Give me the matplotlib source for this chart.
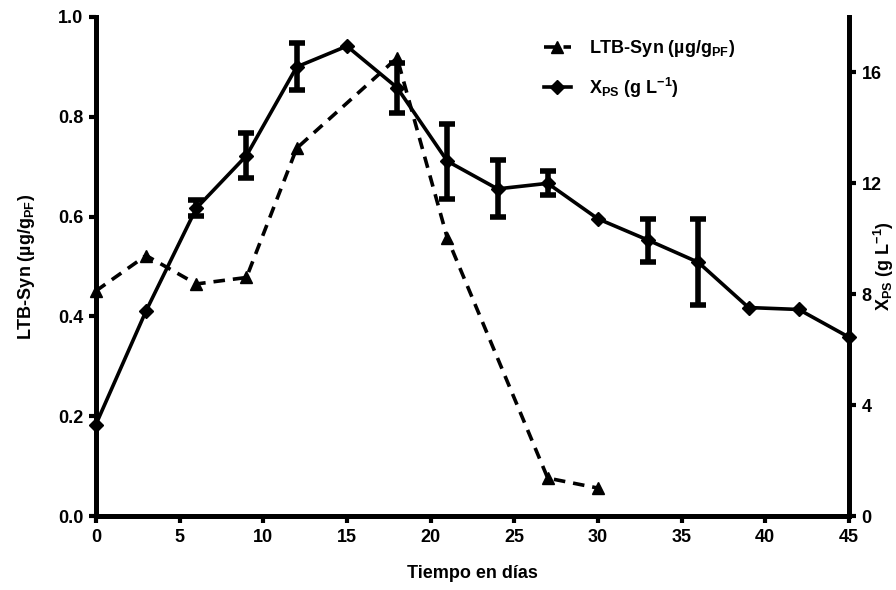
import numpy as np
import matplotlib.pyplot as plt

plt.rcParams['font.family'] = ['Liberation Sans', 'DejaVu Sans']
plt.rcParams['font.weight'] = 'bold'
plt.rcParams['mathtext.fontset'] = 'custom'
plt.rcParams['mathtext.rm'] = 'Liberation Sans:bold'
plt.rcParams['mathtext.bf'] = 'Liberation Sans:bold'
plt.rcParams['mathtext.default'] = 'bf'

# LTB-Syn (eje izquierdo)
dias_ltb = [0, 3, 6, 9, 12, 18, 21, 27, 30]
ltb = [0.451, 0.522, 0.465, 0.478, 0.737, 0.918, 0.557, 0.076, 0.056]

# Biomasa X_PS (eje derecho)
dias_x = [0, 3, 6, 9, 12, 15, 18, 21, 24, 27, 30, 33, 36, 39, 42, 45]
xps = [3.3, 7.4, 11.1, 13.0, 16.2, 16.95, 15.45, 12.8, 11.8, 12.0,
       10.72, 9.95, 9.15, 7.52, 7.45, 6.45]
xps_err = [0, 0, 0.29, 0.81, 0.85, 0, 0.9, 1.35, 1.03, 0.43,
           0, 0.77, 1.55, 0, 0, 0]

fig = plt.figure(figsize=(8.96, 5.9), dpi=100)
ax = fig.add_axes([0.107, 0.1254, 0.8405, 0.8458])
ax2 = ax.twinx()

l1, = ax.plot(dias_ltb, ltb, '--', color='black', linewidth=2.6,
              dashes=(3.2, 2.2), marker='^', markersize=9, clip_on=False,
              label=r'LTB-Syn (µg/g$_{PF}$)')

err = np.array(xps_err)
ax2.errorbar(dias_x, xps, yerr=np.where(err > 0, err, np.nan),
             fmt='none', ecolor='black', elinewidth=4, capsize=6,
             capthick=4, clip_on=False)
l2, = ax2.plot(dias_x, xps, '-', color='black', linewidth=2.6,
               marker='D', markersize=7, clip_on=False,
               label=r'X$_{PS}$ (g L$^{-1}$)')

ax.set_xlim(0, 45)
ax.set_ylim(0, 1.0)
ax2.set_ylim(0, 18)
ax.set_xticks(np.arange(0, 46, 5))
ax.set_yticks(np.arange(0, 1.01, 0.2))
ax.set_yticklabels([f'{v:.1f}' for v in np.arange(0, 1.01, 0.2)])
ax2.set_yticks([0, 4, 8, 12, 16])

for a in (ax, ax2):
    a.spines['top'].set_visible(False)
    for s in ('left', 'right', 'bottom'):
        a.spines[s].set_linewidth(3.5)
    a.tick_params(width=3, length=5, labelsize=13, pad=4)

ax.set_xlabel('Tiempo en días', fontsize=13, fontweight='bold', labelpad=14)
ax.set_ylabel(r'LTB-Syn (µg/g$_{PF}$)', fontsize=13, fontweight='bold')
ax.yaxis.set_label_coords(-0.078, 0.5)
ax2.set_ylabel(r'X$_{PS}$ (g L$^{-1}$)', fontsize=13, fontweight='bold',
               rotation=90)
ax2.yaxis.set_label_coords(1.031, 0.5)

ax.legend(handles=[l1, l2], loc='upper right', bbox_to_anchor=(0.87, 0.99),
          frameon=False, fontsize=13, handlelength=1.5, labelspacing=0.9,
          handletextpad=1.0)

fig.savefig('out.png', dpi=100)
